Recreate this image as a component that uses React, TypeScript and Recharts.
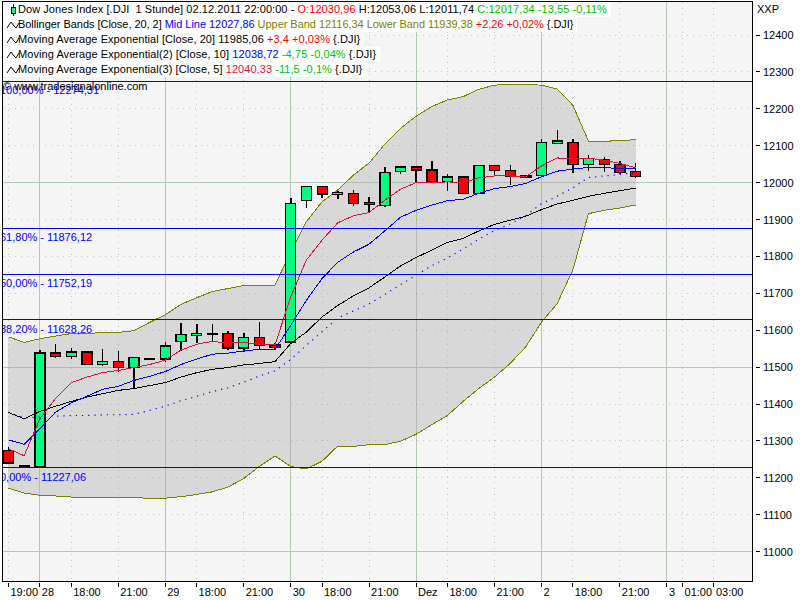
import { Area, Bar, CartesianGrid, ComposedChart, Line, ReferenceLine, XAxis, YAxis } from 'recharts'

const FONT = '"Liberation Sans", Arial, sans-serif'

const opens = [11275, 11233, 11231, 11538, 11529, 11541, 11508, 11516, 11500, 11521, 11522, 11569, 11586, 11590, 11592, 11552, 11581, 11560, 11568, 11952, 11990, 11967, 11971, 11946, 11938, 12030, 12042, 12034, 12004, 12015, 11971, 12047, 12032, 12018, 12020, 12107, 12109, 12050, 12063, 12050, 12030.96]
const closes = [11240, 11230, 11538, 11529, 11541, 11508, 11516, 11500, 11527, 11524, 11557, 11589, 11591, 11592, 11552, 11581, 11558, 11554, 11944, 11990, 11969, 11973, 11943, 11940, 12028, 12042, 12034, 12003, 12015, 11971, 12047, 12032, 12017, 12016, 12109, 12113, 12050, 12066, 12050, 12028, 12017.34]
const highs = [11284, 11233, 11547, 11563, 11552, 11544, 11550, 11544, 11527, 11524, 11568, 11619, 11617, 11617, 11598, 11592, 11622, 11565, 11958, 11990, 11990, 11978, 11979, 11961, 12042, 12042, 12042, 12058, 12023, 12015, 12047, 12047, 12047, 12018, 12118, 12143, 12118, 12074, 12070, 12059, 12053.06]
const lows = [11240, 11230, 11227, 11526, 11523, 11506, 11504, 11488, 11441, 11521, 11515, 11545, 11565, 11567, 11547, 11541, 11549, 11550, 11563, 11930, 11959, 11957, 11938, 11921, 11935, 12024, 12001, 12003, 11978, 11971, 11971, 12020, 11994, 12016, 12020, 12107, 12027, 12032, 12030, 12023, 12011.74]

const upperBand = [11582, 11567, 11577, 11584, 11591, 11591, 11594, 11594, 11599, 11621, 11642, 11670, 11688, 11705, 11713, 11721, 11721, 11722, 11811, 11894, 11948, 11980, 12020, 12053, 12104, 12147, 12180, 12206, 12224, 12233, 12253, 12264, 12267, 12267, 12264, 12254, 12210, 12112, 12112, 12114, 12116.34]
const lowerBand = [11172, 11159, 11153, 11151, 11148, 11147, 11147, 11147, 11146, 11145, 11145, 11149, 11155, 11162, 11175, 11198, 11231, 11259, 11231, 11224, 11245, 11286, 11285, 11290, 11290, 11299, 11318, 11344, 11369, 11407, 11442, 11473, 11510, 11555, 11622, 11672, 11763, 11916, 11925, 11931, 11939.38]
const midLine = [11377, 11363, 11365, 11367, 11369, 11369, 11371, 11371, 11372, 11383, 11394, 11409, 11421, 11434, 11444, 11459, 11476, 11490, 11521, 11559, 11596, 11633, 11652, 11671, 11697, 11723, 11749, 11775, 11796, 11820, 11847, 11870, 11888, 11911, 11943, 11963, 11986, 12014, 12018, 12022, 12027.86]
const ema20 = [11377, 11360, 11380, 11394, 11407, 11419, 11428, 11437, 11442, 11450, 11458, 11473, 11485, 11494, 11499, 11506, 11510, 11515, 11564, 11595, 11636, 11667, 11693, 11715, 11744, 11774, 11797, 11817, 11838, 11849, 11869, 11887, 11898, 11909, 11927, 11942, 11952, 11963, 11971, 11978, 11985.06]
const ema10 = [11303, 11291, 11333, 11378, 11403, 11421, 11440, 11448, 11464, 11475, 11488, 11507, 11522, 11535, 11538, 11544, 11548, 11548, 11613, 11681, 11740, 11784, 11812, 11833, 11869, 11906, 11925, 11939, 11951, 11955, 11971, 11984, 11989, 11998, 12016, 12031, 12037, 12041, 12041, 12038, 12038.72]
const ema5 = [11279, 11260, 11360, 11415, 11458, 11473, 11485, 11491, 11499, 11507, 11519, 11546, 11562, 11570, 11565, 11567, 11562, 11560, 11690, 11790, 11844, 11891, 11910, 11919, 11952, 11982, 12000, 12000, 12002, 12000, 12013, 12018, 12018, 12016, 12045, 12067, 12064, 12066, 12061, 12052, 12040.33]

const xTicks = [0, 2, 4, 7, 10, 12, 15, 18, 20, 23, 26, 28, 31, 34, 36, 39, 42, 43, 45]
const xLabels = ['19:00', '28', '18:00', '21:00', '29', '18:00', '21:00', '30', '18:00', '21:00', 'Dez', '18:00', '21:00', '2', '18:00', '21:00', '3', '01:00', '03:00']
const dayTicks = [2, 10, 18, 26, 34, 42]
const yTicks = [11000, 11100, 11200, 11300, 11400, 11500, 11600, 11700, 11800, 11900, 12000, 12100, 12200, 12300, 12400]
const majorYTicks = [11000, 11500, 12000]

const fibValues = [12274.31, 11876.12, 11752.19, 11628.26, 11227.06]
const fibLabels = ['100,00% - 12274,31', '61,80% - 11876,12', '50,00% - 11752,19', '38,20% - 11628,26', '0,00% - 11227,06']

const data = opens.map((open, i) => ({
  i,
  open,
  close: closes[i],
  high: highs[i],
  low: lows[i],
  band: [lowerBand[i], upperBand[i]],
  mid: midLine[i],
  ema20: ema20[i],
  ema10: ema10[i],
  ema5: ema5[i],
}))

const GREEN = '#00c000'
const RED = '#ff0000'
const OLIVE = '#808000'
const BLUE = '#0000ff'
const CRIMSON = '#dc143c'

// each row: text pieces with their colour
const legendRows: [string, string][][] = [
  [['Dow Jones Index [.DJI  1 Stunde] 02.12.2011 22:00:00 - ', '#000'], ['O:12030,96', RED], [' H:12053,06 L:12011,74 ', '#000'], ['C:12017,34 -13,55 -0,11%', GREEN]],
  [['Bollinger Bands [Close, 20, 2] ', '#000'], ['Mid Line 12027,86', BLUE], [' Upper Band 12116,34 Lower Band 11939,38', OLIVE], [' +2,26 +0,02%', RED], [' {.DJI}', '#000']],
  [['Moving Average Exponential [Close, 20] 11985,06 ', '#000'], ['+3,4 +0,03%', RED], [' {.DJI}', '#000']],
  [['Moving Average Exponential(2) [Close, 10] ', '#000'], ['12038,72', BLUE], [' -4,75 -0,04%', GREEN], [' {.DJI}', '#000']],
  [['Moving Average Exponential(3) [Close, 5] ', '#000'], ['12040,33', CRIMSON], [' -11,5 -0,1%', GREEN], [' {.DJI}', '#000']],
]
const rowSpacing = [0.06, -0.04, 0.06, 0.07, 0.06]

function Candle(props: any) {
  const { x, y, width, height, payload } = props
  const k = height / (payload.high - payload.low)
  const top = y + (payload.high - Math.max(payload.open, payload.close)) * k
  const bottom = y + (payload.high - Math.min(payload.open, payload.close)) * k
  const mid = x + width / 2
  return (
    <g shapeRendering="crispEdges">
      <line x1={mid} x2={mid} y1={y} y2={y + height} stroke="#000" strokeWidth={1.5} />
      <rect x={x} y={top} width={width} height={Math.max(bottom - top, 1)} fill={payload.close >= payload.open ? '#00ff80' : '#ff0000'} stroke="#000" strokeWidth={1.3} />
    </g>
  )
}

function XTick({ x, y, payload }: any) {
  const label = xLabels[xTicks.indexOf(payload.value)]
  return (
    <g>
      <line x1={x} x2={x} y1={y + 2} y2={y + 6} stroke="#000" shapeRendering="crispEdges" />
      <text x={x + 2} y={y + 15} fontSize={11} fontFamily={FONT} fill="#000">{label}</text>
    </g>
  )
}

function YTick({ x, y, payload }: any) {
  return (
    <g>
      <line x1={x + 4} x2={x + 8} y1={y} y2={y} stroke="#000" shapeRendering="crispEdges" />
      <text x={x + 11} y={y + 4} fontSize={11} fontFamily={FONT} fill="#000">{payload.value}</text>
    </g>
  )
}

// text is cut at the plot's left edge, like in the original
function fibLabel(text: string) {
  return ({ viewBox }: any) => (
    <svg x={viewBox.x} y={viewBox.y} width={140} height={16}>
      <text x={-3} y={13} fontSize={11} fontFamily={FONT} fill={BLUE}>{text}</text>
    </svg>
  )
}

function RowIcon({ candle }: { candle: boolean }) {
  return (
    <svg width={15} height={15} style={{ position: 'absolute', left: 3, top: 0 }}>
      {candle ? (
        <g shapeRendering="crispEdges">
          <line x1={7.5} x2={7.5} y1={2} y2={14} stroke="#000" />
          <rect x={5.5} y={5.5} width={4} height={6} fill="#00ff80" stroke="#000" />
        </g>
      ) : (
        <polyline points="1,11 5,5 8,9 10,11 13,6" fill="none" stroke="#000" />
      )}
    </svg>
  )
}

export default function App() {
  return (
    <div style={{ position: 'absolute', left: 0, top: 0, width: 800, height: 600, background: '#fff', fontFamily: FONT, fontSize: 11 }}>
      <div style={{ position: 'absolute', left: 2, top: 1, width: 749, height: 579, background: '#f5f5f5', border: '1px solid #000' }} />
      <div style={{ position: 'absolute', left: 0, top: 0 }}>
        <ComposedChart width={800} height={600} data={data} margin={{ top: 2, right: 0, bottom: 0, left: 3 }}>
          <CartesianGrid stroke="#bcc8bc" strokeDasharray="1 5" shapeRendering="crispEdges" verticalValues={xTicks} horizontalValues={yTicks} />
          <CartesianGrid stroke="#b4c8b4" shapeRendering="crispEdges" verticalValues={dayTicks} horizontalValues={majorYTicks} />
          <XAxis
            dataKey="i"
            type="number"
            domain={[-0.35, 47.43]}
            allowDataOverflow
            ticks={xTicks}
            interval={0}
            height={19}
            axisLine={false}
            tickLine={false}
            tickSize={0}
            tickMargin={0}
            tick={<XTick />}
          />
          <YAxis
            orientation="right"
            width={48}
            domain={[10920.5, 12489.5]}
            allowDataOverflow
            ticks={yTicks}
            interval={0}
            axisLine={false}
            tickLine={false}
            tickSize={0}
            tickMargin={0}
            tick={<YTick />}
          />
          <Area dataKey="band" type="linear" stroke={OLIVE} strokeWidth={1} shapeRendering="crispEdges" fill="#a8a8a8" fillOpacity={0.38} isAnimationActive={false} dot={false} activeDot={false} />
          <Bar dataKey={(d: any) => [d.low, d.high]} barSize={10} shape={<Candle />} isAnimationActive={false} />
          <Line dataKey="mid" type="linear" stroke={BLUE} strokeWidth={1.2} strokeDasharray="1.2 5" dot={false} isAnimationActive={false} />
          <Line dataKey="ema20" type="linear" stroke="#000" strokeWidth={1} shapeRendering="crispEdges" dot={false} isAnimationActive={false} />
          <Line dataKey="ema10" type="linear" stroke={BLUE} strokeWidth={1} shapeRendering="crispEdges" dot={false} isAnimationActive={false} />
          <Line dataKey="ema5" type="linear" stroke={CRIMSON} strokeWidth={1} shapeRendering="crispEdges" dot={false} isAnimationActive={false} />
          {fibValues.map((v, i) => (
            <ReferenceLine key={v} y={v} stroke={BLUE} strokeWidth={1} shapeRendering="crispEdges" label={fibLabel(fibLabels[i])} />
          ))}
        </ComposedChart>
      </div>
      <div style={{ position: 'absolute', left: 3, top: 2 }}>
        {legendRows.map((row, r) => (
          <div key={r} style={{ position: 'relative', width: 'fit-content', height: 15, lineHeight: '15px', background: '#fff', paddingLeft: 15, paddingRight: 4, whiteSpace: 'pre', letterSpacing: rowSpacing[r] }}>
            <RowIcon candle={r === 0} />
            {row.map(([text, color], i) => (
              <span key={i} style={{ color }}>{text}</span>
            ))}
          </div>
        ))}
      </div>
      <div style={{ position: 'absolute', left: 3, top: 79, lineHeight: '15px', color: '#000' }}>© www.tradesignalonline.com</div>
      <div style={{ position: 'absolute', left: 757, top: 2, lineHeight: '15px', color: '#000' }}>XXP</div>
    </div>
  )
}
